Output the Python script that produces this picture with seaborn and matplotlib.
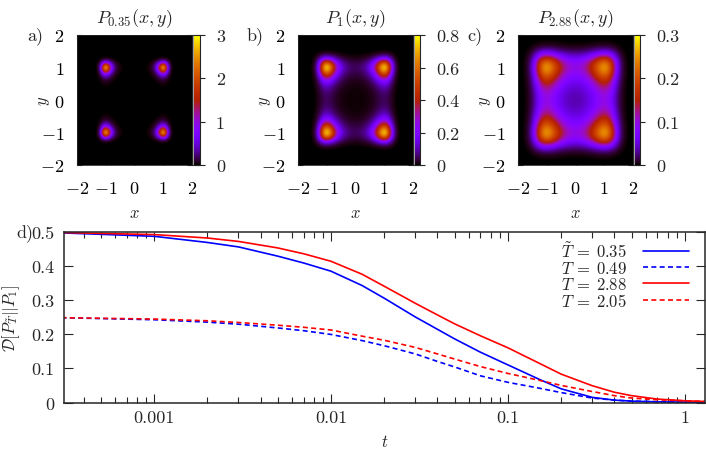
import numpy as np
import matplotlib
matplotlib.use("Agg")
import matplotlib.pyplot as plt
import matplotlib.ticker as mticker
import seaborn as sns

# --- data ---
# temperatures of the three density maps and their colour ranges
map_temps = [0.35, 1.0, 2.88]
map_titles = [r'$P_{0.35}(x,y)$', r'$P_1(x,y)$', r'$P_{2.88}(x,y)$']
map_letters = ['a)', 'b)', 'c)']
map_vmax = [3, 0.8, 0.3]
map_cticks = [[0, 1, 2, 3], [0, 0.2, 0.4, 0.6, 0.8], [0, 0.1, 0.2, 0.3]]
barrier = 2.7     # height of the double-well in each direction

# divergence curves
t = [0.0003, 0.001, 0.002, 0.003, 0.005, 0.007, 0.01, 0.015, 0.02, 0.03, 0.04,
     0.05, 0.07, 0.1, 0.15, 0.2, 0.3, 0.4, 0.5, 0.7, 1.0, 1.3]
d_035 = [0.496, 0.486, 0.468, 0.455, 0.428, 0.408, 0.384, 0.342, 0.305, 0.250, 0.214,
         0.186, 0.147, 0.110, 0.068, 0.040, 0.015, 0.007, 0.004, 0.002, 0.001, 0.0005]
d_049 = [0.248, 0.242, 0.235, 0.229, 0.218, 0.210, 0.199, 0.181, 0.166, 0.142, 0.120,
         0.104, 0.078, 0.059, 0.042, 0.029, 0.013, 0.007, 0.004, 0.002, 0.001, 0.0005]
d_288 = [0.497, 0.491, 0.481, 0.471, 0.452, 0.435, 0.413, 0.375, 0.340, 0.290, 0.256,
         0.230, 0.195, 0.160, 0.115, 0.083, 0.049, 0.030, 0.020, 0.010, 0.005, 0.003]
d_205 = [0.248, 0.244, 0.239, 0.234, 0.226, 0.220, 0.212, 0.194, 0.182, 0.161, 0.142,
         0.127, 0.105, 0.085, 0.065, 0.050, 0.032, 0.020, 0.013, 0.008, 0.005, 0.003]

curves = [
    (d_035, r'$\tilde{T}\:=\:0.35$', 'blue', '-'),
    (d_049, r'$T\:=\:0.49$', 'blue', (0, (3, 2))),
    (d_288, r'$T\:=\:2.88$', 'red', '-'),
    (d_205, r'$T\:=\:2.05$', 'red', (0, (3, 2))),
]

# --- style ---
FS = 13
sns.set_theme(style='ticks')
plt.rcParams['font.family'] = ['cmr10', 'DejaVu Serif']
plt.rcParams['mathtext.fontset'] = 'cm'
plt.rcParams['axes.formatter.use_mathtext'] = True
plt.rcParams['font.size'] = FS
plt.rcParams['axes.unicode_minus'] = True

W, H = 706, 452
fig = plt.figure(figsize=(W / 100, H / 100), dpi=100)

def box(x0, y0, x1, y1):
    # pixel box (top-left origin) -> figure fraction rect
    return [x0 / W, 1 - y1 / H, (x1 - x0) / W, (y1 - y0) / H]

img_boxes = [(77, 36, 192, 166), (298, 36, 413, 166), (518, 36, 633, 166)]
cbar_boxes = [(192, 36, 200, 166), (413, 36, 420, 166), (633, 36, 640, 166)]
letter_x = [27, 247, 467]

grid = np.linspace(-2, 2, 241)
X, Y = np.meshgrid(grid, grid)
V = barrier * ((X**2 - 1)**2 + (Y**2 - 1)**2)
cell = (grid[1] - grid[0])**2

mathfmt = mticker.FuncFormatter(lambda v, p: f'${v:g}$')

for i, T in enumerate(map_temps):
    P = np.exp(-V / T)
    P /= P.sum() * cell

    ax = fig.add_axes(box(*img_boxes[i]))
    im = ax.imshow(P, extent=[-2, 2, -2, 2], origin='lower', aspect='auto',
                   cmap='gnuplot', vmin=0, vmax=map_vmax[i], interpolation='bilinear')
    ax.set_xticks([-2, -1, 0, 1, 2])
    ax.set_yticks([-2, -1, 0, 1, 2])
    ax.xaxis.set_major_formatter(mathfmt)
    ax.yaxis.set_major_formatter(mathfmt)
    ax.tick_params(direction='in', top=True, right=True, length=3.5, width=0.8,
                   labelsize=FS, colors='black')
    ax.tick_params(axis='x', pad=11)
    ax.tick_params(axis='y', pad=9)
    for s in ax.spines.values():
        s.set_linewidth(0.6)
    ax.set_xlabel(r'$x$', labelpad=6)
    ax.set_ylabel(r'$y$', rotation=90)
    ax.yaxis.set_label_coords(-0.22, 0.5)
    ax.set_title(map_titles[i], fontsize=FS, pad=9)
    fig.text(letter_x[i] / W, 1 - 36 / H, map_letters[i], ha='left', va='center', fontsize=FS)

    cax = fig.add_axes(box(*cbar_boxes[i]))
    cb = fig.colorbar(im, cax=cax, ticks=map_cticks[i])
    cb.ax.yaxis.set_major_formatter(mticker.FuncFormatter(lambda v, p: f'{v:g}'))
    cb.ax.tick_params(direction='inout', length=7, width=0.8, labelsize=FS, pad=8)
    cb.outline.set_linewidth(0.8)
    cax.axvline(0, color='0.65', lw=2.2)

# --- divergence panel ---
ax = fig.add_axes(box(64, 232.5, 705, 403.5))
for vals, lab, col, ls in curves:
    sns.lineplot(x=t, y=vals, ax=ax, color=col, linestyle=ls, lw=1.2, label=lab,
                 sort=False)
ax.set_xscale('log')
ax.set_xlim(3.1e-4, 1.3)
ax.set_ylim(0, 0.5)
ax.set_xticks([0.001, 0.01, 0.1, 1])
ax.xaxis.set_major_formatter(mticker.FuncFormatter(lambda v, p: f'{v:g}'))
ax.xaxis.set_minor_locator(mticker.LogLocator(base=10, subs=np.arange(2, 10), numticks=20))
ax.xaxis.set_minor_formatter(mticker.NullFormatter())
ax.set_yticks([0, 0.1, 0.2, 0.3, 0.4, 0.5])
ax.yaxis.set_major_formatter(mticker.FuncFormatter(lambda v, p: f'{v:g}'))
ax.tick_params(which='major', direction='in', top=True, right=True, length=6.5,
               width=0.8, labelsize=FS)
ax.tick_params(which='minor', direction='in', top=True, right=True, length=4, width=0.8)
ax.tick_params(axis='x', pad=5)
ax.tick_params(axis='y', pad=7)
for s in ax.spines.values():
    s.set_linewidth(1.1)
ax.set_xlabel(r'$t$', labelpad=6)
ax.set_ylabel(r'$\mathcal{D}[P_{\tilde{T}}||P_1]$')
ax.yaxis.set_label_coords(-0.065, 0.5)
fig.text(16 / W, 1 - 233 / H, 'd)', ha='left', va='center', fontsize=FS)

ax.legend(loc='upper right', bbox_to_anchor=(1 - 8 / 641, 1), frameon=False,
          markerfirst=False, fontsize=12, handlelength=2.75, handletextpad=0.96,
          labelspacing=0.0, borderaxespad=0, borderpad=0.5)

fig.savefig('out.png', dpi=100)
